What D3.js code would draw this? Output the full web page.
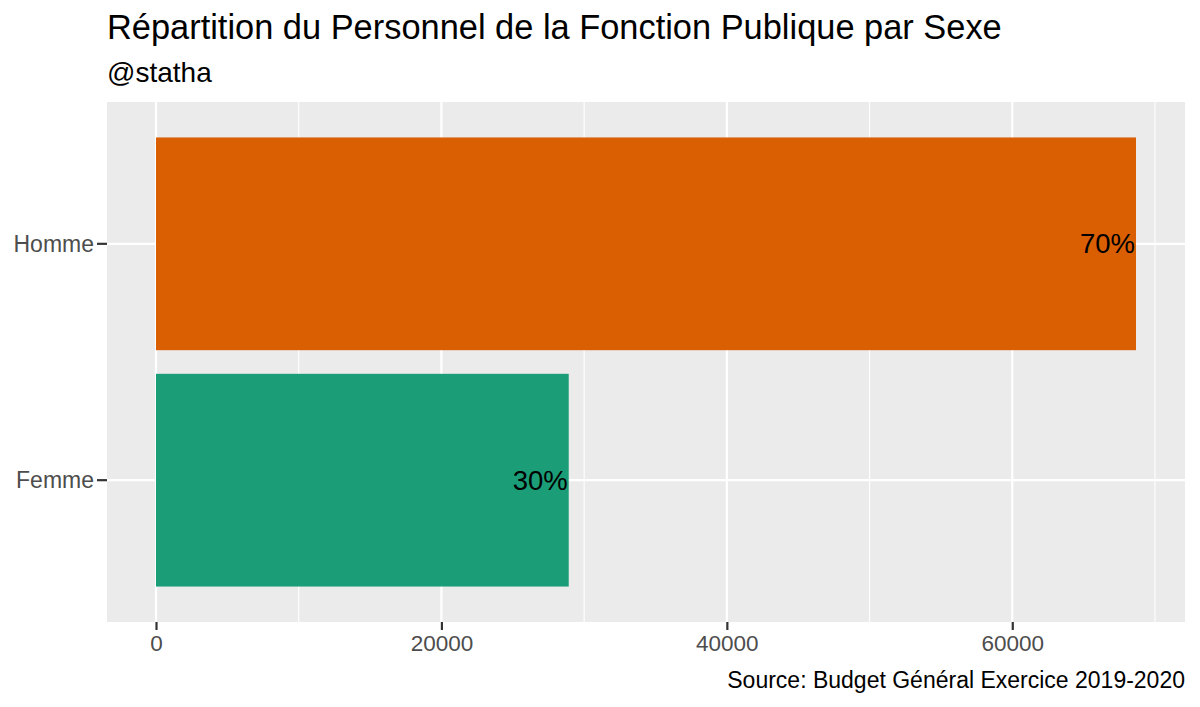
<!DOCTYPE html>
<html>
<head>
<meta charset="utf-8">
<script src="https://cdn.jsdelivr.net/npm/d3@7"></script>
<style>
  body { margin: 0; background: #fff; }
  svg { font-family: "Liberation Sans", Arial, sans-serif; }
</style>
</head>
<body>
<svg id="chart" width="1200" height="707"></svg>
<script>
const categories = ['Femme', 'Homme'];
const counts = [28920, 68670];
const shares = ['30%', '70%'];
const barColors = ['#1B9E77', '#D95F02'];
const xTicks = [0, 20000, 40000, 60000];
const xMinor = [10000, 30000, 50000, 70000];

const svg = d3.select('#chart');
const margin = { top: 102, right: 15, bottom: 85, left: 107 };
const w = 1200 - margin.left - margin.right;
const h = 707 - margin.top - margin.bottom;

const maxVal = d3.max(counts);
const pad = maxVal * 0.05;
const xScale = d3.scaleLinear().domain([-pad, maxVal + pad]).range([0, w]);

// ggplot-like discrete expansion: 0.6 units each side, bar width 0.9
const order = categories.slice().reverse();
const yScale = d3.scalePoint().domain(order).range([0, h]).padding(0.6);
const barH = yScale.step() * 0.9;

const g = svg.append('g').attr('transform', `translate(${margin.left},${margin.top})`);

g.append('rect').attr('width', w).attr('height', h).attr('fill', '#EBEBEB');

g.selectAll('line.minor').data(xMinor).join('line')
    .attr('class', 'minor')
    .attr('x1', d => xScale(d)).attr('x2', d => xScale(d))
    .attr('y1', 0).attr('y2', h)
    .attr('stroke', '#fff').attr('stroke-width', 1.1);

g.selectAll('line.major').data(xTicks).join('line')
    .attr('class', 'major')
    .attr('x1', d => xScale(d)).attr('x2', d => xScale(d))
    .attr('y1', 0).attr('y2', h)
    .attr('stroke', '#fff').attr('stroke-width', 2.2);

g.selectAll('line.hmajor').data(categories).join('line')
    .attr('class', 'hmajor')
    .attr('x1', 0).attr('x2', w)
    .attr('y1', d => yScale(d)).attr('y2', d => yScale(d))
    .attr('stroke', '#fff').attr('stroke-width', 2.2);

g.selectAll('rect.bar').data(categories).join('rect')
    .attr('class', 'bar')
    .attr('x', xScale(0))
    .attr('y', d => yScale(d) - barH / 2)
    .attr('width', (d, i) => xScale(counts[i]) - xScale(0))
    .attr('height', barH)
    .attr('fill', (d, i) => barColors[i]);

g.selectAll('text.lab').data(categories).join('text')
    .attr('class', 'lab')
    .attr('x', (d, i) => xScale(counts[i]) - 1)
    .attr('y', d => yScale(d))
    .attr('dy', '0.35em')
    .attr('text-anchor', 'end')
    .attr('font-size', 27.5)
    .attr('fill', '#000')
    .text((d, i) => shares[i]);

// x axis
const xAxis = d3.axisBottom(xScale).tickValues(xTicks).tickSize(8).tickPadding(5)
    .tickFormat(d3.format('d'));
const gx = g.append('g').attr('transform', `translate(0,${h})`).call(xAxis);
gx.select('.domain').remove();
gx.selectAll('.tick line').attr('stroke', '#333').attr('stroke-width', 2.2);
gx.selectAll('.tick text').attr('font-size', 22.5).attr('fill', '#4D4D4D')
    .attr('font-family', '"Liberation Sans", Arial, sans-serif');

// y axis
const gy = g.append('g');
gy.selectAll('line.ytick').data(categories).join('line')
    .attr('class', 'ytick')
    .attr('x1', -10).attr('x2', 0)
    .attr('y1', d => yScale(d)).attr('y2', d => yScale(d))
    .attr('stroke', '#333').attr('stroke-width', 2.2);
gy.selectAll('text.ytick').data(categories).join('text')
    .attr('class', 'ytick')
    .attr('x', -13)
    .attr('y', d => yScale(d))
    .attr('dy', '0.35em')
    .attr('text-anchor', 'end')
    .attr('font-size', 23)
    .attr('fill', '#4D4D4D')
    .text(d => d);

// titles
svg.append('text').attr('x', 107).attr('y', 39).attr('font-size', 34.4).attr('fill', '#000')
    .text('Répartition du Personnel de la Fonction Publique par Sexe');
svg.append('text').attr('x', 107).attr('y', 82).attr('font-size', 28).attr('fill', '#000')
    .text('@statha');
svg.append('text').attr('x', 1185).attr('y', 688).attr('font-size', 23).attr('fill', '#000')
    .attr('text-anchor', 'end')
    .text('Source: Budget Général Exercice 2019-2020');
</script>
</body>
</html>
